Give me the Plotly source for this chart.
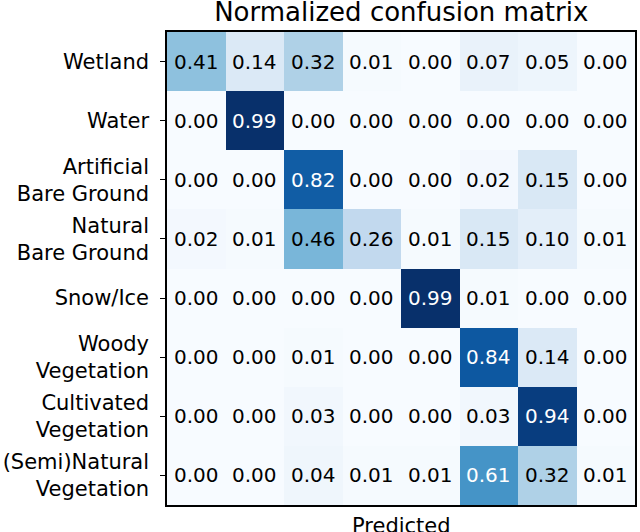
import plotly.graph_objects as go

classes = ["Wetland", "Water", "Artificial<br>Bare Ground", "Natural<br>Bare Ground",
           "Snow/Ice", "Woody<br>Vegetation", "Cultivated<br>Vegetation", "(Semi)Natural<br>Vegetation"]

row_wetland = [0.41, 0.14, 0.32, 0.01, 0.00, 0.07, 0.05, 0.00]
row_water = [0.00, 0.99, 0.00, 0.00, 0.00, 0.00, 0.00, 0.00]
row_artificial = [0.00, 0.00, 0.82, 0.00, 0.00, 0.02, 0.15, 0.00]
row_natural = [0.02, 0.01, 0.46, 0.26, 0.01, 0.15, 0.10, 0.01]
row_snow = [0.00, 0.00, 0.00, 0.00, 0.99, 0.01, 0.00, 0.00]
row_woody = [0.00, 0.00, 0.01, 0.00, 0.00, 0.84, 0.14, 0.00]
row_cultivated = [0.00, 0.00, 0.03, 0.00, 0.00, 0.03, 0.94, 0.00]
row_seminatural = [0.00, 0.00, 0.04, 0.01, 0.01, 0.61, 0.32, 0.01]

matrix = [row_wetland, row_water, row_artificial, row_natural,
          row_snow, row_woody, row_cultivated, row_seminatural]

blues = ["#f7fbff", "#deebf7", "#c6dbef", "#9ecae1", "#6baed6",
         "#4292c6", "#2171b5", "#08519c", "#08306b"]
colorscale = [[i / (len(blues) - 1), c] for i, c in enumerate(blues)]

n = len(classes)
idx = list(range(n))
vmax = max(max(r) for r in matrix)
thresh = vmax / 2.0

fig = go.Figure(go.Heatmap(
    z=matrix, x=idx, y=idx, colorscale=colorscale, zmin=0, zmax=vmax,
    showscale=False, hoverinfo="skip", xgap=0, ygap=0,
))

font_family = "DejaVu Sans"
for i, row in enumerate(matrix):
    for j, v in enumerate(row):
        fig.add_annotation(
            x=j, y=i, text=f"{v:.2f}", showarrow=False,
            font=dict(family=font_family, size=20,
                      color="white" if v > thresh else "black"),
        )

fig.add_annotation(
    x=0.5, y=0, xref="paper", yref="paper", text="Predicted",
    showarrow=False, yanchor="top", yshift=-7,
    font=dict(family=font_family, size=21, color="black"),
)

fig.update_layout(
    width=640, height=532,
    margin=dict(l=165, r=3, t=32, b=27),
    paper_bgcolor="white", plot_bgcolor="white",
    title=dict(text="Normalized confusion matrix", x=0.627, xanchor="center",
               y=0.978, yanchor="middle",
               font=dict(family=font_family, size=26, color="black")),
    font=dict(family=font_family, size=21, color="black"),
)
fig.update_xaxes(
    range=[-0.5, n - 0.5], showticklabels=False, ticks="",
    showline=True, linecolor="black", linewidth=1.5, mirror=True,
    showgrid=False, zeroline=False,
)
fig.update_yaxes(
    range=[n - 0.5, -0.5], tickvals=idx, ticktext=classes,
    ticks="outside", ticklen=5, tickcolor="black", ticklabelstandoff=7,
    showline=True, linecolor="black", linewidth=1.5, mirror=True,
    showgrid=False, zeroline=False,
    tickfont=dict(family=font_family, size=21, color="black"),
)

fig.write_html("out.html", config={"displayModeBar": False},
               post_script="document.body.style.margin='0';")
